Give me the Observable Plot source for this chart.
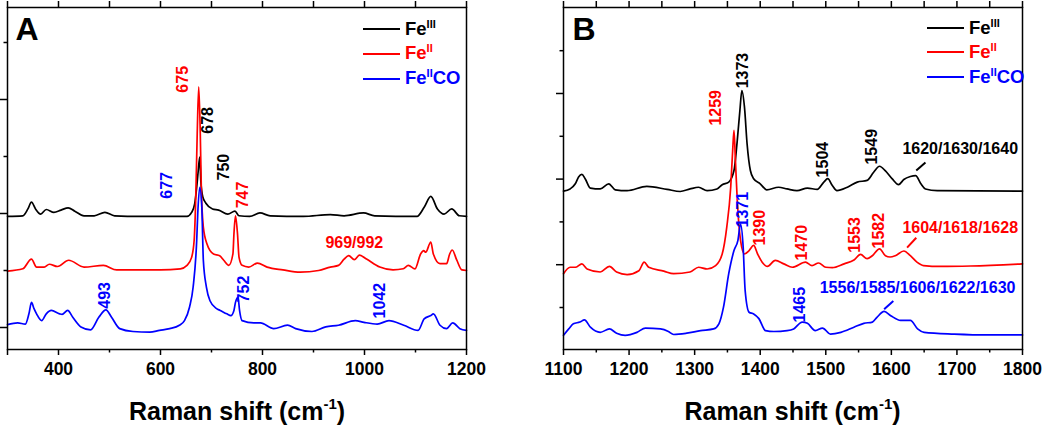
<!DOCTYPE html>
<html><head><meta charset="utf-8">
<script src="https://cdn.jsdelivr.net/npm/d3@7"></script>
<script src="https://cdn.jsdelivr.net/npm/@observablehq/plot@0.6"></script>
<style>
body{margin:0;background:#fff;font-family:"Liberation Sans",Arial,sans-serif;font-weight:bold}
#wrap{position:relative;width:1050px;height:427px;overflow:hidden;background:#fff}
.panel{position:absolute;top:0}
.xt{position:absolute;font-size:25px;line-height:1;white-space:nowrap;transform:translateX(-50%)}
.xt sup{font-size:15px;vertical-align:baseline;position:relative;top:-11px}
.lgl{position:absolute;height:2px;width:37px}
.lgt{position:absolute;font-size:18.5px;line-height:1;white-space:nowrap}
.lgt sup{font-size:11px;vertical-align:baseline;position:relative;top:-7px}
</style></head><body><div id="wrap"></div><script>
// ---------- Panel A data (Raman shift, intensity a.u., offset spectra) ----------
const A_FeIII = [[300,1.95],[330,1.96],[340,2.08],[347,2.20],[355,2.08],[365,1.99],[376,2.07],[391,2.02],[405,2.06],[419,2.10],[432,2.04],[450,1.96],[470,1.96],[491,2.02],[510,1.96],[560,1.95],[620,1.95],[652,1.95],[661,2.02],[667,2.17],[671,2.46],[674,2.75],[677,2.99],[679,2.58],[683,2.29],[689,2.18],[702,2.08],[714,2.06],[732,1.99],[746,2.04],[754,1.96],[775,1.95],[795,2.01],[815,1.96],[880,1.95],[933,1.98],[960,1.96],[998,2.01],[1020,1.96],[1103,1.95],[1117,2.11],[1130,2.30],[1143,2.08],[1156,1.99],[1171,2.08],[1186,1.96],[1200,1.95]];
const A_FeII = [[300,0.99],[330,1.03],[347,1.20],[357,1.06],[372,1.06],[382,1.11],[398,1.07],[420,1.18],[450,1.06],[488,1.09],[514,1.01],[560,1.01],[600,1.01],[639,1.03],[652,1.09],[661,1.23],[666,1.53],[669,2.23],[672,3.40],[675,4.22],[678,3.40],[680,2.46],[684,1.76],[691,1.47],[704,1.29],[716,1.26],[724,1.18],[734,1.09],[742,1.29],[744,1.64],[747,1.96],[751,1.64],[754,1.23],[760,1.09],[773,1.06],[790,1.13],[809,1.06],[840,1.01],[874,0.97],[910,1.00],[933,1.06],[949,1.09],[960,1.20],[969,1.26],[980,1.19],[990,1.27],[1004,1.20],[1030,1.06],[1056,1.01],[1076,1.03],[1086,1.09],[1099,1.03],[1110,1.29],[1116,1.35],[1120,1.32],[1130,1.50],[1135,1.29],[1148,1.12],[1161,1.12],[1167,1.29],[1172,1.36],[1181,1.18],[1191,1.01],[1200,1.00]];
const A_FeIICO = [[300,0.05],[320,0.08],[335,0.06],[342,0.24],[347,0.44],[352,0.33],[357,0.24],[367,0.12],[376,0.24],[386,0.30],[402,0.24],[407,0.23],[418,0.30],[428,0.18],[444,0.01],[463,-0.04],[479,0.18],[493,0.31],[504,0.18],[520,-0.02],[546,-0.07],[579,-0.08],[598,-0.05],[618,-0.02],[637,0.04],[647,0.12],[657,0.36],[664,0.71],[671,1.53],[673,1.99],[677,2.46],[681,2.11],[684,1.18],[690,0.71],[697,0.47],[710,0.33],[717,0.30],[730,0.24],[738,0.21],[744,0.30],[747,0.44],[752,0.53],[755,0.30],[760,0.12],[783,0.08],[796,0.08],[822,-0.02],[849,0.04],[865,-0.02],[897,-0.07],[924,0.01],[949,0.04],[982,0.12],[999,0.09],[1025,0.06],[1048,0.12],[1077,0.04],[1105,-0.05],[1117,0.15],[1130,0.21],[1135,0.24],[1148,0.04],[1161,-0.02],[1173,0.08],[1187,-0.02],[1200,-0.05]];

// ---------- Panel B data ----------
const B_FeIII = [[1100,2.72],[1110,2.77],[1118,2.89],[1123,3.05],[1128,3.11],[1133,3.01],[1141,2.79],[1156,2.77],[1169,2.89],[1179,2.75],[1197,2.73],[1227,2.83],[1258,2.76],[1278,2.71],[1293,2.77],[1306,2.81],[1319,2.73],[1334,2.77],[1342,2.87],[1352,2.93],[1360,3.20],[1365,3.90],[1369,4.60],[1372,5.07],[1376,4.68],[1380,3.82],[1385,3.20],[1390,3.01],[1400,2.89],[1410,2.75],[1428,2.81],[1441,2.77],[1456,2.73],[1472,2.79],[1487,2.76],[1497,2.93],[1503,3.01],[1510,2.85],[1517,2.73],[1533,2.81],[1548,2.93],[1563,2.97],[1573,3.16],[1582,3.30],[1591,3.19],[1601,3.01],[1611,2.87],[1619,2.99],[1629,3.06],[1637,3.08],[1645,2.89],[1652,2.77],[1670,2.73],[1800,2.72]];
const B_FeII = [[1100,0.79],[1110,0.94],[1118,0.94],[1128,1.02],[1136,0.90],[1156,0.83],[1170,0.96],[1181,0.83],[1197,0.77],[1215,0.86],[1223,1.06],[1230,0.94],[1253,0.85],[1268,0.79],[1293,0.83],[1306,0.94],[1319,0.90],[1332,0.98],[1342,1.25],[1349,1.88],[1355,2.81],[1358,3.67],[1360,4.14],[1362,3.51],[1365,2.50],[1370,1.57],[1376,1.25],[1383,1.33],[1390,1.45],[1396,1.25],[1403,1.06],[1411,0.96],[1423,1.10],[1436,1.02],[1449,0.94],[1469,1.06],[1479,0.98],[1489,1.04],[1500,0.94],[1510,0.93],[1528,1.02],[1543,1.11],[1553,1.24],[1563,1.14],[1571,1.21],[1582,1.37],[1591,1.21],[1598,1.18],[1606,1.21],[1619,1.32],[1629,1.21],[1639,1.06],[1649,0.98],[1675,0.96],[1721,0.97],[1800,1.02]];
const B_FeIICO = [[1100,-0.65],[1108,-0.50],[1115,-0.38],[1125,-0.34],[1132,-0.29],[1141,-0.46],[1156,-0.58],[1170,-0.50],[1181,-0.60],[1194,-0.65],[1212,-0.58],[1225,-0.48],[1248,-0.50],[1260,-0.56],[1268,-0.63],[1288,-0.60],[1309,-0.54],[1329,-0.50],[1337,-0.38],[1344,0.01],[1352,0.79],[1360,1.33],[1366,1.57],[1370,1.95],[1374,1.41],[1377,0.40],[1383,-0.11],[1390,-0.15],[1398,-0.26],[1408,-0.54],[1421,-0.56],[1441,-0.54],[1451,-0.50],[1464,-0.34],[1472,-0.37],[1484,-0.54],[1495,-0.48],[1507,-0.62],[1523,-0.58],[1543,-0.46],[1558,-0.37],[1571,-0.34],[1578,-0.23],[1589,-0.09],[1599,-0.19],[1614,-0.30],[1629,-0.30],[1640,-0.50],[1650,-0.58],[1696,-0.62],[1747,-0.64],[1800,-0.64]];

// ---------- series, ticks, annotations ----------
const seriesNames = ["FeIII", "FeII", "FeIICO"];
const seriesColors = ["#000000", "#ff0000", "#0000ff"];
const legendMain = ["Fe", "Fe", "Fe"];
const legendSup = ["III", "II", "II"];
const legendTail = ["", "", "CO"];

const A_xMajor = [300, 400, 600, 800, 1000, 1200];
const A_xLabels = [400, 600, 800, 1000, 1200];
const A_xMinor = [500, 700, 900, 1100];
const A_yMajor = [0, 2, 4];
const A_yMinor = [1, 3, 5];
const B_xMajor = [1100, 1200, 1300, 1400, 1500, 1600, 1700, 1800];
const B_xMinor = [1150, 1250, 1350, 1450, 1550, 1650, 1750];
const B_yMajor = [1, 3, 5];
const B_yMinor = [0, 2, 4, 6];

// annotations: [text, x, y, series, rotated]
const A_notes = [["675",643,4.12,"FeII",1],["678",692,3.40,"FeIII",1],["750",725,2.58,"FeIII",1],["677",612,2.26,"FeIICO",1],["747",761,2.09,"FeII",1],["969/992",980,1.49,"FeII",0],["493",490,0.33,"FeIICO",1],["752",763,0.44,"FeIICO",1],["1042",1030,0.16,"FeIICO",1]];
const B_notes = [["1373",1374,5.12,"FeIII",1],["1259",1333,4.25,"FeII",1],["1504",1496,3.04,"FeIII",1],["1549",1571,3.34,"FeIII",1],["1620/1630/1640",1705,3.71,"FeIII",0],["1371",1374,1.87,"FeIICO",1],["1390",1399,1.45,"FeII",1],["1470",1464,1.10,"FeII",1],["1553",1545,1.28,"FeII",1],["1582",1581,1.38,"FeII",1],["1604/1618/1628",1705,1.87,"FeII",0],["1465",1461,-0.35,"FeIICO",1],["1556/1585/1606/1622/1630",1640,0.45,"FeIICO",0]];
// leader lines: [x1,y1,x2,y2,series]
const B_leaders = [[1638,3.20,1652,3.39,"FeIII"],[1624,1.40,1638,1.63,"FeII"],[1589,-0.04,1603,0.15,"FeIICO"]];

const FONT = '"Liberation Sans", Arial, sans-serif';

function makePanel(cfg) {
  const rows = [];
  cfg.series.forEach((pts, i) => pts.forEach(([x, y]) => rows.push({x, y, s: seriesNames[i]})));
  const notes = cfg.notes.map(([t, x, y, s, r]) => ({t, x, y, s, r}));
  const leaders = (cfg.leaders || []).map(([x1, y1, x2, y2, s]) => ({x1, y1, x2, y2, s}));
  const blank = () => "";
  return Plot.plot({
    width: 525, height: 390,
    marginLeft: cfg.ml, marginRight: cfg.mr, marginTop: 7, marginBottom: 41,
    style: {fontFamily: FONT, fontWeight: "bold", fontSize: "17.5px", color: "#000", background: "transparent", overflow: "visible"},
    x: {domain: cfg.xd},
    y: {domain: cfg.yd},
    color: {domain: seriesNames, range: seriesColors},
    marks: [
      Plot.axisX({ticks: cfg.xMajor, tickSize: 6, tickFormat: d => cfg.xLabels.includes(d) ? String(d) : "", tickPadding: 7, label: null, strokeWidth: 1.5}),
      Plot.axisX({ticks: cfg.xMinor, tickSize: 3.5, tickFormat: blank, label: null, strokeWidth: 1.5}),
      Plot.axisX({anchor: "top", ticks: cfg.xMajor.concat(cfg.xMinor), tickSize: 7, tickFormat: blank, label: null, strokeWidth: 1.5}),
      Plot.axisY({ticks: cfg.yMajor, tickSize: 7, tickFormat: blank, label: null, strokeWidth: 1.5}),
      Plot.axisY({ticks: cfg.yMinor, tickSize: 3.5, tickFormat: blank, label: null, strokeWidth: 1.5}),
      Plot.line(rows, {x: "x", y: "y", z: "s", stroke: "s", strokeWidth: 1.7, curve: "monotone-x"}),
      Plot.text(notes.filter(d => d.r), {x: "x", y: "y", text: "t", fill: "s", rotate: -90, textAnchor: "start", lineAnchor: "middle", fontSize: 16, fontWeight: "bold"}),
      Plot.text(notes.filter(d => !d.r), {x: "x", y: "y", text: "t", fill: "s", textAnchor: "middle", lineAnchor: "middle", fontSize: 16, fontWeight: "bold"}),
      Plot.link(leaders, {x1: "x1", y1: "y1", x2: "x2", y2: "y2", stroke: "s", strokeWidth: 2}),
      Plot.text([cfg.letter], {frameAnchor: "top-left", dx: cfg.ldx, dy: 10, fontSize: 32, fontWeight: "bold", lineAnchor: "top"}),
      Plot.frame({strokeWidth: 1.5})
    ]
  });
}

const wrap = document.getElementById("wrap");
const panels = [
  {left: 0, ml: 7, mr: 59, xd: [300, 1200], yd: [-0.386, 5.614], series: [A_FeIII, A_FeII, A_FeIICO],
   xMajor: A_xMajor, xLabels: A_xLabels, xMinor: A_xMinor, yMajor: A_yMajor, yMinor: A_yMinor, notes: A_notes, letter: "A", ldx: 8,
   lgLine: 363, lgText: 405, lgCap: [22, 46.7, 71.7], title: 237},
  {left: 525, ml: 38, mr: 28, xd: [1100, 1800], yd: [-0.981, 7.009], series: [B_FeIII, B_FeII, B_FeIICO],
   xMajor: B_xMajor, xLabels: B_xMajor, xMinor: B_xMinor, yMajor: B_yMajor, yMinor: B_yMinor, notes: B_notes, leaders: B_leaders, letter: "B", ldx: 9,
   lgLine: 927, lgText: 969, lgCap: [21, 45, 70], title: 792.5}
];
panels.forEach(cfg => {
  const svg = makePanel(cfg);
  const d = document.createElement("div");
  d.className = "panel"; d.style.left = cfg.left + "px";
  d.appendChild(svg); wrap.appendChild(d);
  seriesNames.forEach((s, i) => {
    const l = document.createElement("div");
    l.className = "lgl"; l.style.left = cfg.lgLine + "px"; l.style.top = (cfg.lgCap[i] + 6) + "px"; l.style.background = seriesColors[i];
    wrap.appendChild(l);
    const t = document.createElement("div");
    t.className = "lgt"; t.style.left = cfg.lgText + "px"; t.style.top = (cfg.lgCap[i] - 2.4) + "px"; t.style.color = seriesColors[i];
    t.innerHTML = legendMain[i] + "<sup>" + legendSup[i] + "</sup>" + legendTail[i];
    wrap.appendChild(t);
  });
  const tt = document.createElement("div");
  tt.className = "xt"; tt.style.left = cfg.title + "px"; tt.style.top = "399px";
  tt.innerHTML = "Raman shift (cm<sup>-1</sup>)";
  wrap.appendChild(tt);
});
</script></body></html>
